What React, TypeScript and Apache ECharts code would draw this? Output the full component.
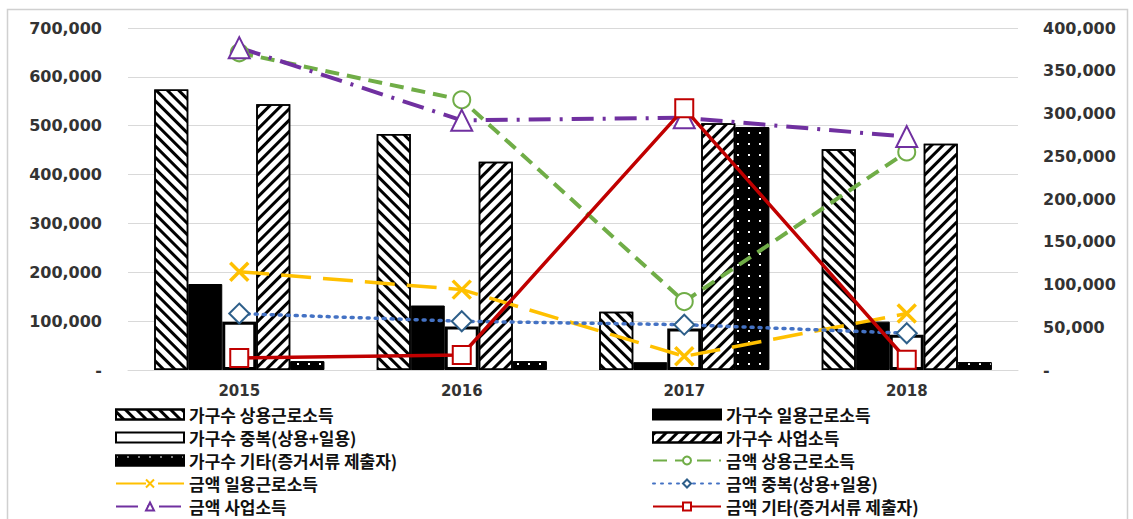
import React, { useEffect, useRef } from 'react';
import * as echarts from 'echarts';

const years = ['2015', '2016', '2017', '2018'];

const seriesNames = [
  '가구수 상용근로소득',
  '가구수 일용근로소득',
  '가구수 중복(상용+일용)',
  '가구수 사업소득',
  '가구수 기타(증거서류 제출자)',
  '금액 상용근로소득',
  '금액 일용근로소득',
  '금액 중복(상용+일용)',
  '금액 사업소득',
  '금액 기타(증거서류 제출자)',
];

// households (left axis)
const hhRegular = [574000, 483000, 119000, 452000];
const hhDaily = [176000, 132000, 16000, 99000];
const hhBoth = [99000, 89000, 85000, 72000];
const hhBusiness = [544000, 426000, 505000, 463000];
const hhOther = [18000, 18000, 497000, 16000];

// amounts (right axis)
const amtRegular = [371000, 316000, 80000, 255000];
const amtDaily = [115000, 94000, 16000, 66000];
const amtBoth = [66000, 57000, 53000, 43000];
const amtBusiness = [377000, 292000, 295000, 273000];
const amtOther = [14000, 17500, 306000, 12000];

const leftTicks = { min: 0, max: 700000, interval: 100000 };
const rightTicks = { min: 0, max: 400000, interval: 50000 };

const fmt = (v: number) => (v === 0 ? '-' : v.toLocaleString('en-US'));

export default function App() {
  const ref = useRef<HTMLDivElement>(null);
  useEffect(() => {
    if (!ref.current) return;
    const chart = echarts.init(ref.current, undefined, { renderer: 'svg' });

    const stripe = (rot: number) => ({
      symbol: 'rect',
      symbolSize: 1,
      color: '#000',
      dashArrayX: [1, 0],
      dashArrayY: [3, 4.5],
      rotation: rot,
    });

    const barBase = { type: 'bar', barWidth: 34, barGap: '0%', yAxisIndex: 0 };
    const lineBase = { type: 'line', yAxisIndex: 1, showAllSymbol: true };

    const legendText = {
      fontFamily: '"Noto Sans CJK KR", "Noto Sans", sans-serif',
      fontSize: 17,
      fontWeight: 'bold',
      color: '#111',
      lineHeight: 19,
    };

    const legendItem = (i: number) =>
      i < 5 ? { name: seriesNames[i], icon: 'rect' } : { name: seriesNames[i] };

    const legendBase = {
      orient: 'vertical',
      top: 405,
      height: 112,
      padding: 0,
      itemWidth: 68,
      itemHeight: 10,
      itemGap: 4,
      textStyle: legendText,
    };

    chart.setOption({
      animation: false,
      backgroundColor: '#fff',
      grid: { left: 128, right: 115, top: 28, bottom: 149 },
      legend: [
        { ...legendBase, left: 115, data: [0, 2, 4, 6, 8].map(legendItem) },
        { ...legendBase, left: 652, data: [1, 3, 5, 7, 9].map(legendItem) },
      ],
      graphic: [
        {
          type: 'rect',
          shape: { x: 7.5, y: 9.5, width: 1120, height: 530 },
          style: { fill: 'none', stroke: '#d0d0d0', lineWidth: 1.5 },
          silent: true,
          z: -10,
        },
      ],
      xAxis: {
        type: 'category',
        data: years,
        axisLine: { show: true, lineStyle: { color: '#d9d9d9', width: 1 } },
        axisTick: { show: false },
        axisLabel: {
          fontFamily: '"DejaVu Sans", sans-serif',
          fontSize: 15,
          fontWeight: 'bold',
          color: '#333',
          margin: 13,
        },
      },
      yAxis: [
        {
          type: 'value',
          ...leftTicks,
          axisLine: { show: false },
          axisTick: { show: false },
          splitLine: { lineStyle: { color: '#d9d9d9', width: 1 } },
          axisLabel: {
            formatter: fmt,
            fontFamily: '"DejaVu Sans", sans-serif',
            fontSize: 16,
            fontWeight: 'bold',
            color: '#333',
            margin: 26,
          },
        },
        {
          type: 'value',
          ...rightTicks,
          axisLine: { show: false },
          axisTick: { show: false },
          splitLine: { show: false },
          axisLabel: {
            formatter: fmt,
            fontFamily: '"DejaVu Sans", sans-serif',
            fontSize: 16,
            fontWeight: 'bold',
            color: '#333',
            margin: 25,
          },
        },
      ],
      series: [
        {
          ...barBase,
          name: seriesNames[0],
          data: hhRegular,
          itemStyle: { color: '#fff', borderColor: '#000', borderWidth: 1.5, decal: stripe(Math.PI / 4) },
        },
        {
          ...barBase,
          name: seriesNames[1],
          data: hhDaily,
          itemStyle: { color: '#000', borderColor: '#000', borderWidth: 1 },
        },
        {
          ...barBase,
          name: seriesNames[2],
          data: hhBoth,
          itemStyle: { color: '#fff', borderColor: '#000', borderWidth: 3 },
        },
        {
          ...barBase,
          name: seriesNames[3],
          data: hhBusiness,
          itemStyle: { color: '#fff', borderColor: '#000', borderWidth: 1.5, decal: stripe(-Math.PI / 4) },
        },
        {
          ...barBase,
          name: seriesNames[4],
          data: hhOther,
          itemStyle: {
            color: '#000',
            borderColor: '#000',
            borderWidth: 1,
            decal: {
              symbol: 'rect',
              symbolSize: 1,
              color: '#fff',
              dashArrayX: [1.5, 8.5],
              dashArrayY: [1.5, 8.5],
            },
          },
        },
        {
          ...lineBase,
          name: seriesNames[5],
          data: amtRegular,
          symbol: 'emptyCircle',
          symbolSize: 17,
          lineStyle: { color: '#70AD47', width: 4, type: [14, 8] },
          itemStyle: { color: '#70AD47', borderWidth: 3 },
        },
        {
          ...lineBase,
          name: seriesNames[6],
          data: amtDaily,
          symbol: 'path://M0,0L10,10M10,0L0,10',
          symbolSize: 18,
          lineStyle: { color: '#FFC000', width: 3.5, type: [30, 12] },
          itemStyle: { color: '#FFC000', borderColor: '#FFC000', borderWidth: 3.5 },
        },
        {
          ...lineBase,
          name: seriesNames[7],
          data: amtBoth,
          symbol: 'emptyDiamond',
          symbolSize: 20,
          lineStyle: { color: '#4472C4', width: 3.5, type: [2, 6], cap: 'round' },
          itemStyle: { color: '#2E5F8A', borderWidth: 3 },
        },
        {
          ...lineBase,
          name: seriesNames[8],
          data: amtBusiness,
          symbol: 'emptyTriangle',
          symbolSize: 21,
          lineStyle: { color: '#7030A0', width: 4, type: [22, 9, 3, 9] },
          itemStyle: { color: '#7030A0', borderWidth: 3.5 },
        },
        {
          ...lineBase,
          name: seriesNames[9],
          data: amtOther,
          symbol: 'emptyRect',
          symbolSize: 18,
          lineStyle: { color: '#C00000', width: 3.5, type: 'solid' },
          itemStyle: { color: '#C00000', borderWidth: 3 },
        },
      ],
    });
    return () => chart.dispose();
  }, []);

  return (
    <div
      ref={ref}
      style={{ position: 'absolute', left: 0, top: 0, width: 1133, height: 519 }}
    />
  );
}
